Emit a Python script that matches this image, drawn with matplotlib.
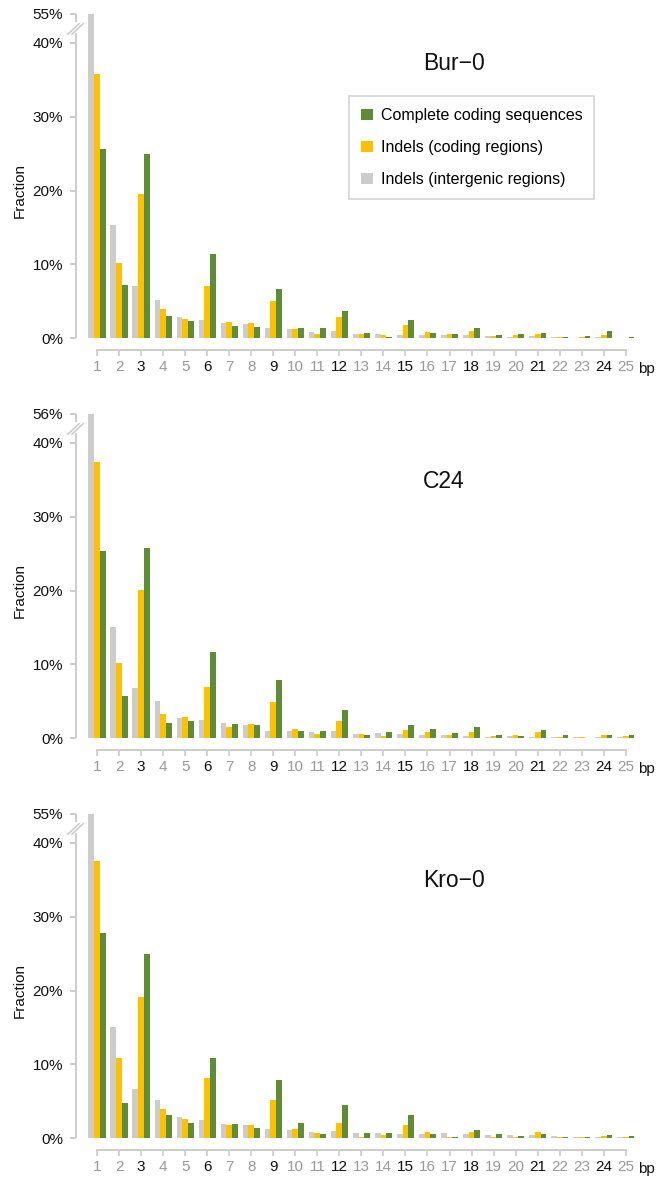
import numpy as np
import matplotlib
matplotlib.use('Agg')
import matplotlib.pyplot as plt
from matplotlib.patches import Patch

plt.rcParams['font.family'] = ['Liberation Sans', 'DejaVu Sans']

# indel length (bp)
bp = list(range(1, 26))
accessions = ['Bur−0', 'C24', 'Kro−0']
series_names = ['Indels (intergenic regions)', 'Indels (coding regions)', 'Complete coding sequences']

# fractions in %
bur_intergenic = [55, 15.3, 7.1, 5.2, 2.9, 2.5, 2.0, 1.9, 1.3, 1.2, 0.8, 0.9, 0.5, 0.6, 0.45,
                  0.4, 0.4, 0.35, 0.3, 0.2, 0.25, 0.15, 0.05, 0.1, 0.05]
bur_coding = [35.8, 10.2, 19.5, 3.9, 2.6, 7.1, 2.2, 2.1, 5.0, 1.2, 0.5, 2.8, 0.6, 0.4, 1.8,
              0.8, 0.6, 1.0, 0.3, 0.4, 0.6, 0.1, 0.1, 0.45, 0.05]
bur_cds = [25.6, 7.2, 24.9, 3.0, 2.3, 11.4, 1.6, 1.5, 6.7, 1.4, 1.3, 3.6, 0.7, 0.2, 2.5,
           0.7, 0.6, 1.3, 0.4, 0.6, 0.7, 0.2, 0.3, 0.9, 0.15]

c24_intergenic = [56, 15.1, 6.8, 5.0, 2.7, 2.4, 2.1, 1.8, 1.0, 0.95, 0.75, 0.9, 0.55, 0.7, 0.55,
                  0.4, 0.35, 0.3, 0.2, 0.25, 0.2, 0.1, 0.1, 0.1, 0.1]
c24_coding = [37.4, 10.2, 20.1, 3.2, 2.9, 6.9, 1.5, 1.85, 4.9, 1.2, 0.5, 2.35, 0.55, 0.3, 1.1,
              0.8, 0.45, 0.8, 0.3, 0.4, 0.8, 0.1, 0.1, 0.4, 0.25]
c24_cds = [25.3, 5.7, 25.7, 2.0, 2.25, 11.7, 1.85, 1.7, 7.9, 1.0, 0.9, 3.85, 0.4, 0.8, 1.8,
           1.2, 0.65, 1.5, 0.35, 0.3, 1.1, 0.4, 0.05, 0.4, 0.35]

kro_intergenic = [55, 15.0, 6.6, 5.1, 2.8, 2.4, 1.9, 1.7, 1.25, 1.1, 0.85, 0.95, 0.7, 0.7, 0.6,
                  0.6, 0.65, 0.5, 0.35, 0.4, 0.35, 0.3, 0.15, 0.1, 0.1]
kro_coding = [37.5, 10.8, 19.1, 3.9, 2.6, 8.1, 1.75, 1.75, 5.2, 1.2, 0.7, 2.1, 0.15, 0.35, 1.75,
              0.8, 0.1, 0.85, 0.1, 0.2, 0.8, 0.2, 0.15, 0.3, 0.15]
kro_cds = [27.8, 4.7, 24.9, 3.1, 2.05, 10.8, 1.85, 1.4, 7.9, 2.05, 0.5, 4.5, 0.7, 0.7, 3.1,
           0.6, 0.2, 1.1, 0.6, 0.3, 0.6, 0.2, 0.15, 0.4, 0.3]

panels = [
    (bur_intergenic, bur_coding, bur_cds),
    (c24_intergenic, c24_coding, c24_cds),
    (kro_intergenic, kro_coding, kro_cds),
]

colors = ['#cccccc', '#ffc000', '#5e8d35']
axis_grey = '#cccccc'

# layout (pixels on a 660x1180 canvas)
W, H = 660, 1180
zero_px = [338, 738, 1138]
px_per_pct = 7.375
left_px, width_px = 76, 563
title_y = [0.847, 0.789, 0.795]
BREAK = 40.0
TOP_DISP = 44.0


def make_scale(peak):
    k = (TOP_DISP - BREAK) / (peak - BREAK)

    def fwd(v):
        v = np.asarray(v, dtype=float)
        return np.where(v <= BREAK, v, BREAK + (v - BREAK) * k)

    def inv(d):
        d = np.asarray(d, dtype=float)
        return np.where(d <= BREAK, d, BREAK + (d - BREAK) / k)

    return fwd, inv


fig = plt.figure(figsize=(W / 100, H / 100), dpi=100)
x = np.array(bp)
bw = 0.26

for i, (series, name) in enumerate(zip(panels, accessions)):
    peak = max(max(s) for s in series)
    fwd, inv = make_scale(peak)
    h_px = TOP_DISP * px_per_pct
    ax = fig.add_axes([left_px / W, (H - zero_px[i]) / H, width_px / W, h_px / H])
    ax.set_yscale('function', functions=(fwd, inv))

    for j, vals in enumerate(series):
        ax.bar(x + (j - 1) * bw, vals, width=bw, color=colors[j], linewidth=0,
               label=series_names[j])

    ax.set_xlim(0.047, 25.6)
    ax.set_ylim(0, peak)

    # axes styling
    for s in ['top', 'right']:
        ax.spines[s].set_visible(False)
    ax.spines['left'].set_visible(False)
    ax.spines['bottom'].set_position(('outward', 8.6))
    ax.spines['bottom'].set_bounds(1, 25)
    ax.spines['bottom'].set_color(axis_grey)
    ax.spines['bottom'].set_linewidth(1.4)

    # broken y-axis line
    yt = ax.get_yaxis_transform()
    ax.plot([0, 0], [0, float(inv(41.3))], transform=yt, color=axis_grey, lw=1.4,
            clip_on=False, solid_capstyle='butt')
    ax.plot([0, 0], [float(inv(42.9)), peak], transform=yt, color=axis_grey, lw=1.4,
            clip_on=False, solid_capstyle='butt')
    for dx in (-8, -4):
        ax.plot([dx / width_px, (dx + 11) / width_px],
                [float(inv(41.2)), float(inv(42.6))], transform=yt,
                color=axis_grey, lw=1.2, clip_on=False)

    ax.set_yticks([0, 10, 20, 30, 40, peak])
    ax.set_yticklabels(['0%', '10%', '20%', '30%', '40%', '%d%%' % round(peak)])
    ax.tick_params(axis='y', length=4.3, width=1.4, color=axis_grey, pad=5,
                   labelsize=11, labelcolor='#111111')
    ax.set_xticks(bp)
    ax.set_xticklabels([str(b) for b in bp])
    ax.tick_params(axis='x', length=4.3, width=1.2, color=axis_grey, pad=3,
                   labelsize=11)
    for b, lab in zip(bp, ax.get_xticklabels()):
        lab.set_color('#111111' if b % 3 == 0 else '#9a9a9a')

    ax.annotate('bp', xy=(25, 0), xycoords=('data', 'axes fraction'),
                xytext=(15, -22), textcoords='offset points',
                ha='center', va='center', fontsize=11, color='#111111',
                annotation_clip=False)

    ax.set_ylabel('Fraction', fontsize=11, color='#111111')
    ax.yaxis.set_label_coords(-0.087, 0.455)

    ax.text(15.8, title_y[i], name, transform=ax.get_xaxis_transform(),
            ha='left', va='center', fontsize=16.5, color='#111111')

    if i == 0:
        handles = [Patch(facecolor=colors[2], edgecolor='none'),
                   Patch(facecolor=colors[1], edgecolor='none'),
                   Patch(facecolor=colors[0], edgecolor='none')]
        labels = [series_names[2], series_names[1], series_names[0]]
        leg = ax.legend(handles, labels, loc='upper left',
                        bbox_to_anchor=(0.485, 0.746), borderaxespad=0,
                        fontsize=11.5, handlelength=0.72, handleheight=0.72,
                        handletextpad=0.5, labelspacing=1.07, borderpad=0.75,
                        fancybox=False, framealpha=1, edgecolor='#d4d4d4')
        leg.get_frame().set_linewidth(1.2)

fig.savefig('out.png', dpi=100)
